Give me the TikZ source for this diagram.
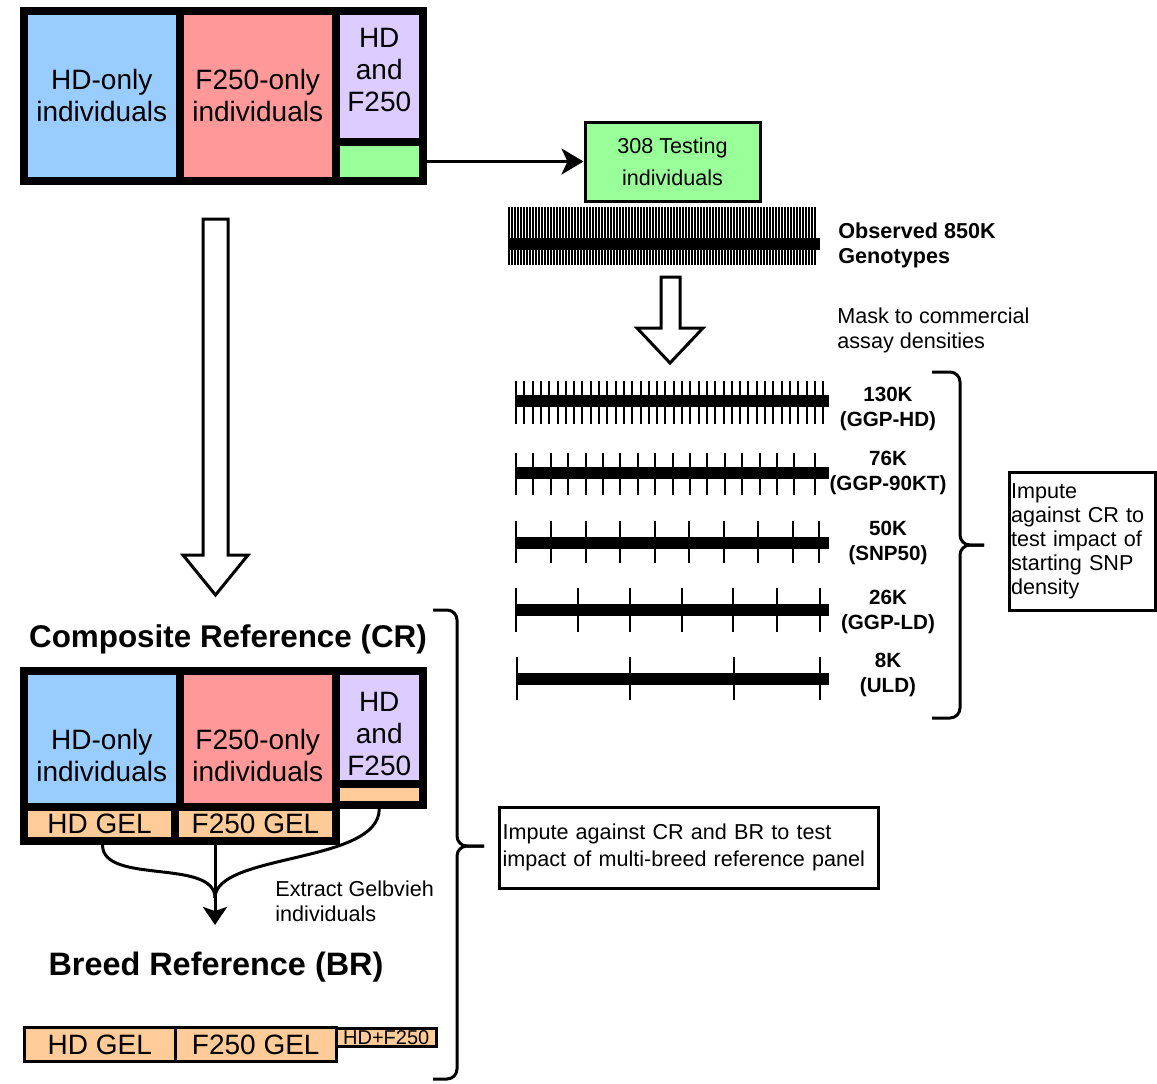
\documentclass[tikz,border=0pt]{standalone}
\usepackage{fontspec}
\setmainfont{Liberation Sans}
\usetikzlibrary{arrows.meta}
\definecolor{hdblue}{HTML}{99CCFF}
\definecolor{fred}{HTML}{FF9999}
\definecolor{bothpurple}{HTML}{DDCCFF}
\definecolor{testgreen}{HTML}{99FF99}
\definecolor{gelorange}{HTML}{FFCC99}

\begin{document}
\begin{tikzpicture}[x=0.5pt, y=-0.5pt,
    thickbox/.style={draw, line width=4pt, inner sep=0pt},
    thinbox/.style={draw, line width=1.5pt, inner sep=0pt},
    bigtxt/.style={font=\fontsize{14}{16}\selectfont, align=center, inner sep=0pt},
    smalltxt/.style={font=\fontsize{10.8}{12.5}\selectfont, align=left, inner sep=0pt},
    boldtxt/.style={font=\fontsize{10.3}{12.5}\selectfont\bfseries, align=center, inner sep=0pt},
    titletxt/.style={font=\fontsize{15.7}{18}\selectfont\bfseries, inner sep=0pt, anchor=base},
    chip/.style={line width=6pt},
    snp/.style={line width=1pt},
    hollow/.style={draw, line width=1.5pt, fill=white, line join=miter},
    link/.style={line width=1.5pt}]
  \useasboundingbox (0,0) rectangle (1157,1083);

  \node[thickbox, bigtxt, fill=hdblue, minimum width=77.75pt, minimum height=85.25pt] (hdonly) at (101.75,95.75) {HD-only\\individuals};
  \node[thickbox, bigtxt, fill=fred, minimum width=78.25pt, minimum height=85.25pt] (fonly) at (257.75,95.75) {F250-only\\individuals};
  \node[thickbox, fill=bothpurple, minimum width=43.25pt, minimum height=65.75pt] (both) at (379.25,76.25) {};
  \node[bigtxt] (bothtxt) at (379.25,69.5) {HD\\and\\F250};
  \node[thickbox, fill=testgreen, minimum width=43.25pt, minimum height=19.5pt] (testpart) at (379.25,161.5) {};

  \node[thinbox, fill=testgreen, minimum width=87.5pt, minimum height=39.5pt, font=\fontsize{10.8}{16}\selectfont, align=center] (test) at (672.5,161.5) {308 Testing\\individuals};
  \draw[link, -{Stealth[length=11pt, width=13pt, inset=3pt]}] (testpart.east) -- (test.west);

  \draw[chip] (508,244) -- (820,244);
  \foreach \i in {0,...,102}
    \draw[line width=0.7pt] ({509+\i*3},207) -- ++(0,58);
  \node[smalltxt, font=\fontsize{10.8}{12.5}\selectfont\bfseries, anchor=west] (obs) at (838,245) {Observed 850K\\Genotypes};

  \draw[hollow] (661,277) -- (680,277) -- (680,328) -- (703,328) -- (670,363) -- (637,328) -- (661,328) -- cycle;
  \node[smalltxt, anchor=west] (mask) at (837,330) {Mask to commercial\\assay densities};

  \draw[chip] (516,401) -- (829,401);
  \foreach \i in {0,...,37}
    \draw[snp] ({516+\i*8.3},381) -- ++(0,43);
  \node[boldtxt] (p130) at (888,409) {130K\\(GGP-HD)};

  \draw[chip] (516,473) -- (829,473);
  \foreach \x in {516,533.4,550.8,568.2,585.6,603,620.4,637.8,655.2,672.6,690,707.4,724.8,742.2,759.6,777,794.4,815}
    \draw[snp] (\x,453) -- ++(0,42);
  \node[boldtxt] (p76) at (888,473) {76K\\(GGP-90KT)};

  \draw[chip] (516,543) -- (829,543);
  \foreach \x in {516,551,586,620,655,689,724,758,793,819}
    \draw[snp] (\x,521) -- ++(0,42);
  \node[boldtxt] (p50) at (888,543) {50K\\(SNP50)};

  \draw[chip] (516,610) -- (829,610);
  \foreach \x in {516,578,630,682,733,777,820}
    \draw[snp] (\x,588) -- ++(0,44);
  \node[boldtxt] (p26) at (888,612) {26K\\(GGP-LD)};

  \draw[chip] (516,679) -- (829,679);
  \foreach \x in {517,630,734,820}
    \draw[snp] (\x,657) -- ++(0,43);
  \node[boldtxt] (p8) at (888,675) {8K\\(ULD)};

  \draw[link, rounded corners=5pt] (932,372) -| (960,545) -- (984,545);
  \draw[link, rounded corners=5pt] (932,718) -| (960,545) -- (984,545);
  \node[thinbox, minimum width=73pt, minimum height=69pt, text width=71pt, inner xsep=1pt, align=left, font=\fontsize{10.8}{12}\selectfont] (density) at (1082,541) {Impute\\against CR to\\test impact of\\starting SNP\\density};

  \draw[hollow] (203,219) -- (228,219) -- (228,555) -- (248,555) -- (215.5,595) -- (183,555) -- (203,555) -- cycle;

  \node[titletxt] (crtitle) at (228,647) {Composite Reference (CR)};
  \node[thickbox, fill=hdblue, minimum width=77.75pt, minimum height=68pt] (crhd) at (101.75,738.5) {};
  \node[thickbox, fill=fred, minimum width=78.25pt, minimum height=68pt] (crf) at (257.75,738.5) {};
  \node[thickbox, fill=bothpurple, minimum width=43.25pt, minimum height=56.5pt] (crboth) at (379.25,727) {};
  \node[thickbox, fill=gelorange, minimum width=43.25pt, minimum height=10.75pt] (crgel) at (379.25,794.25) {};
  \node[thickbox, bigtxt, fill=gelorange, minimum width=75.5pt, minimum height=17.25pt] (crhdgel) at (99.5,823.75) {HD GEL};
  \node[thickbox, bigtxt, fill=gelorange, minimum width=80.5pt, minimum height=17.25pt] (crfgel) at (255.5,823.75) {F250 GEL};
  \node[bigtxt] (crhdtxt) at (101.75,755) {HD-only\\individuals};
  \node[bigtxt] (crftxt) at (257.75,755) {F250-only\\individuals};
  \node[bigtxt] (crbothtxt) at (379.25,733.5) {HD\\and\\F250};

  \coordinate (join) at (215,898);
  \coordinate (tip) at (215,925);
  \draw[link] ([xshift=1.5pt]crhdgel.south) .. controls +(0,40) and +(0,-40) .. (join);
  \draw[link] (crgel.south) .. controls +(0,55) and +(0,-45) .. (join);
  \draw[link, -{Stealth[length=9pt, width=12pt, inset=2pt]}] (join |- crfgel.south) -- (tip);
  \node[smalltxt, anchor=west] (extract) at (275,901) {Extract Gelbvieh\\individuals};

  \node[titletxt, font=\fontsize{16.2}{18}\selectfont\bfseries] (brtitle) at (216,975) {Breed Reference (BR)};
  \node[thinbox, bigtxt, fill=gelorange, minimum width=75.25pt, minimum height=17pt] (brhd) at (99.75,1044.5) {HD GEL};
  \node[thinbox, bigtxt, fill=gelorange, minimum width=80.75pt, minimum height=17pt] (brf) at (255.75,1044.5) {F250 GEL};
  \node[thinbox, fill=gelorange, minimum width=49.75pt, minimum height=8.75pt, font=\fontsize{10}{10}\selectfont] (brboth) at (386.25,1037.25) {HD+F250};

  \draw[link, rounded corners=5pt] (433,610) -| (457,846) -- (484,846);
  \draw[link, rounded corners=5pt] (433,1079) -| (457,846) -- (484,846);
  \node[thinbox, minimum width=189.5pt, minimum height=40.5pt, text width=186pt, inner xsep=1.75pt, align=left, font=\fontsize{10.8}{13.5}\selectfont] (panel) at (688.5,847.5) {Impute against CR and BR to test\\impact of multi-breed reference panel};
\end{tikzpicture}
\end{document}
